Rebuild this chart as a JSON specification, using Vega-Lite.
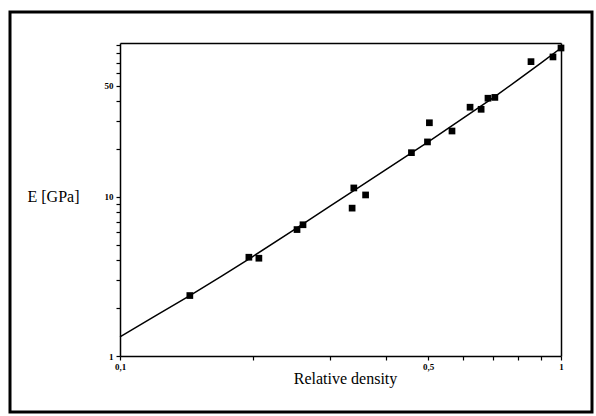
{
  "$schema": "https://vega.github.io/schema/vega-lite/v6.json",
  "autosize": {"type": "none"},
  "padding": {"left": 10, "top": 12, "right": 4, "bottom": 4},
  "width": 582,
  "height": 400,
  "background": "white",
  "config": {
    "view": {"stroke": "black", "strokeWidth": 3},
    "font": "Times New Roman, Liberation Serif, serif",
    "axis": {"domainColor": "black", "tickColor": "black", "labelColor": "black", "titleColor": "black", "grid": false, "domainWidth": 1.5, "labelFont": "Times New Roman, Liberation Serif, serif", "titleFont": "Times New Roman, Liberation Serif, serif"}
  },
  "datasets": {
    "pts": [
      {"rho": 0.144, "E": 2.40},
      {"rho": 0.196, "E": 4.18},
      {"rho": 0.2065, "E": 4.12},
      {"rho": 0.252, "E": 6.24},
      {"rho": 0.260, "E": 6.69},
      {"rho": 0.336, "E": 8.51},
      {"rho": 0.339, "E": 11.4},
      {"rho": 0.3605, "E": 10.3},
      {"rho": 0.458, "E": 19.0},
      {"rho": 0.498, "E": 22.2},
      {"rho": 0.503, "E": 29.3},
      {"rho": 0.566, "E": 26.0},
      {"rho": 0.622, "E": 36.7},
      {"rho": 0.659, "E": 35.6},
      {"rho": 0.683, "E": 41.8},
      {"rho": 0.708, "E": 42.3},
      {"rho": 0.855, "E": 71.0},
      {"rho": 0.959, "E": 76.0},
      {"rho": 1.0, "E": 86.5}
    ],
    "fit": [
      {"rho": 0.1, "E": 1.32},
      {"rho": 0.12, "E": 1.78},
      {"rho": 0.144, "E": 2.40},
      {"rho": 0.17, "E": 3.18},
      {"rho": 0.2, "E": 4.22},
      {"rho": 0.25, "E": 6.31},
      {"rho": 0.3, "E": 8.78},
      {"rho": 0.339, "E": 10.96},
      {"rho": 0.4, "E": 14.8},
      {"rho": 0.5, "E": 22.2},
      {"rho": 0.6, "E": 31.3},
      {"rho": 0.7, "E": 41.8},
      {"rho": 0.8, "E": 54.7},
      {"rho": 0.9, "E": 69.5},
      {"rho": 1.0, "E": 86.5}
    ]
  },
  "layer": [
    {
      "data": {"name": "fit"},
      "mark": {"type": "line", "color": "black", "strokeWidth": 1.5, "interpolate": "linear", "clip": false},
      "encoding": {
        "x": {
          "field": "rho", "type": "quantitative",
          "scale": {"type": "log", "domain": [0.1, 1], "range": [110, 551], "nice": false},
          "axis": {
            "orient": "bottom", "offset": -56,
            "values": [0.1, 0.2, 0.3, 0.4, 0.5, 0.6, 0.7, 0.8, 0.9, 1],
            "labelExpr": "datum.value == 0.1 ? '0,1' : datum.value == 0.5 ? '0,5' : datum.value == 1 ? '1' : ''",
            "labelOverlap": false, "labelFlush": false,
            "labelFontSize": 9, "labelFontWeight": "bold", "labelPadding": 2,
            "tickSize": 4, "tickWidth": 1.2,
            "title": "Relative density", "titleFontSize": 16, "titleFontWeight": "normal",
            "titleX": 335, "titleY": 22, "titleAlign": "center", "titleBaseline": "middle"
          }
        },
        "y": {
          "field": "E", "type": "quantitative",
          "scale": {"type": "log", "domain": [1, 93], "range": [344, 31], "nice": false},
          "axis": {
            "orient": "left", "offset": -110,
            "values": [1, 2, 3, 4, 5, 6, 7, 8, 9, 10, 20, 30, 40, 50, 60, 70, 80, 90],
            "labelExpr": "datum.value == 1 ? '1' : datum.value == 10 ? '10' : datum.value == 50 ? '50' : ''",
            "labelOverlap": false, "labelFlush": false,
            "labelFontSize": 9, "labelFontWeight": "bold", "labelPadding": 3,
            "tickSize": 4, "tickWidth": 1.2,
            "title": "E [GPa]", "titleFontSize": 16, "titleFontWeight": "normal", "titleAngle": 0,
            "titleX": -67, "titleY": 184, "titleAlign": "center", "titleBaseline": "middle"
          }
        }
      }
    },
    {
      "data": {"name": "pts"},
      "mark": {"type": "point", "shape": "square", "filled": true, "color": "black", "opacity": 1, "size": 45, "clip": false},
      "encoding": {
        "x": {
          "field": "rho", "type": "quantitative",
          "scale": {"type": "log", "domain": [0.1, 1], "range": [110, 551], "nice": false},
          "axis": {"orient": "top", "offset": -31, "labels": false, "ticks": false, "title": null}
        },
        "y": {
          "field": "E", "type": "quantitative",
          "scale": {"type": "log", "domain": [1, 93], "range": [344, 31], "nice": false},
          "axis": {"orient": "right", "offset": -31, "labels": false, "ticks": false, "title": null}
        }
      }
    }
  ],
  "resolve": {"axis": {"x": "independent", "y": "independent"}}
}
